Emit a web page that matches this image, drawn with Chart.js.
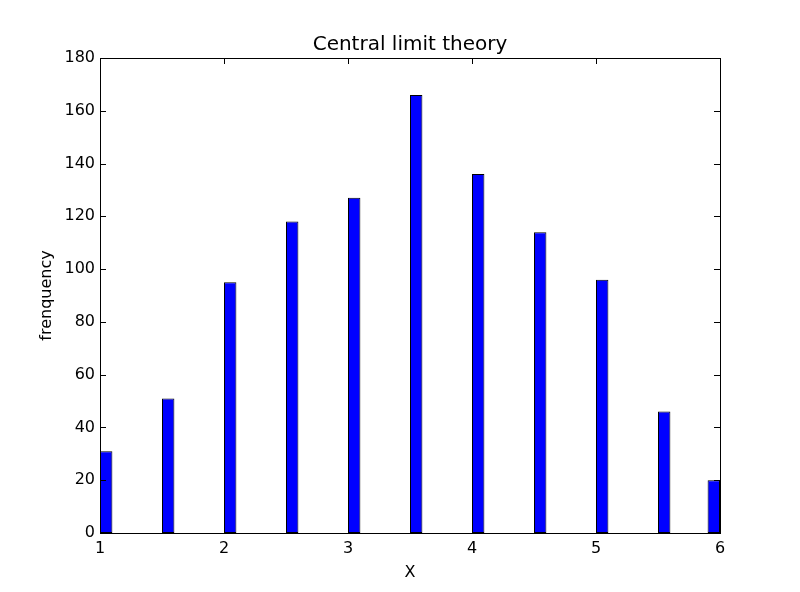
<!DOCTYPE html>
<html>
<head>
<meta charset="utf-8">
<script src="https://cdn.jsdelivr.net/npm/chart.js@4"></script>
<style>
  html, body { margin: 0; padding: 0; background: #ffffff; }
  #wrap { width: 800px; height: 592px; }
</style>
</head>
<body>
<div id="wrap"><canvas id="c" width="800" height="592"></canvas></div>
<script>
// ---- data ----
const binWidth = 0.1;
const binStarts = [1.0, 1.5, 2.0, 2.5, 3.0, 3.5, 4.0, 4.5, 5.0, 5.5, 5.9];
const counts = [31, 51, 95, 118, 127, 166, 136, 114, 96, 46, 20];
const xTicks = [1, 2, 3, 4, 5, 6];
const yTicks = [0, 20, 40, 60, 80, 100, 120, 140, 160, 180];
const titleText = 'Central limit theory';
const xLabel = 'X';
const yLabel = 'frenquency';

// ---- build ----
const points = binStarts.map((s, i) => ({ x: s + binWidth / 2, y: counts[i] }));
let minGap = Infinity;
for (let i = 1; i < points.length; i++) minGap = Math.min(minGap, points[i].x - points[i - 1].x);
const barPct = binWidth / minGap;

const FONT = 'DejaVu Sans';

const framePlugin = {
  id: 'frame',
  afterDatasetsDraw(chart) {
    const { ctx, chartArea: a } = chart;
    const xs = chart.scales.x, ys = chart.scales.y;
    const tl = 6;
    ctx.save();
    ctx.strokeStyle = '#000';
    ctx.lineWidth = 1;
    ctx.beginPath();
    xTicks.forEach(v => {
      const px = Math.round(xs.getPixelForValue(v)) + 0.5;
      ctx.moveTo(px, a.bottom); ctx.lineTo(px, a.bottom - tl);
      ctx.moveTo(px, a.top); ctx.lineTo(px, a.top + tl);
    });
    yTicks.forEach(v => {
      const py = Math.round(ys.getPixelForValue(v)) + 0.5;
      ctx.moveTo(a.left, py); ctx.lineTo(a.left + tl, py);
      ctx.moveTo(a.right, py); ctx.lineTo(a.right - tl, py);
    });
    ctx.stroke();
    ctx.strokeRect(Math.round(a.left) + 0.5, Math.round(a.top) + 0.5,
                   Math.round(a.right - a.left), Math.round(a.bottom - a.top));
    ctx.restore();
  }
};

new Chart(document.getElementById('c'), {
  type: 'bar',
  data: {
    datasets: [{
      data: points,
      backgroundColor: '#0000ff',
      borderColor: '#000000',
      borderWidth: 1,
      borderSkipped: false,
      barPercentage: barPct,
      categoryPercentage: 1.0
    }]
  },
  options: {
    responsive: false,
    devicePixelRatio: 1,
    animation: false,
    layout: { padding: { left: 0, right: 80, top: 0, bottom: 0 } },
    plugins: {
      legend: { display: false },
      tooltip: { enabled: false },
      title: { display: false }
    },
    scales: {
      x: {
        type: 'linear',
        min: xTicks[0],
        max: xTicks[xTicks.length - 1],
        offset: false,
        afterFit: s => { s.height = 59; },
        afterBuildTicks: s => { s.ticks = xTicks.map(v => ({ value: v })); },
        grid: { display: false, drawTicks: false },
        border: { display: false },
        ticks: { color: '#000', padding: 6, font: { family: FONT, size: 16 }, maxRotation: 0 },
        title: {
          display: true, text: xLabel, color: '#000',
          font: { family: FONT, size: 16 },
          padding: { top: 0, bottom: 10 }
        }
      },
      xTop: {
        type: 'linear',
        position: 'top',
        min: xTicks[0],
        max: xTicks[xTicks.length - 1],
        offset: false,
        afterFit: s => { s.height = 58; },
        grid: { display: false, drawTicks: false },
        border: { display: false },
        ticks: { display: false },
        title: {
          display: true, text: titleText, color: '#000',
          font: { family: FONT, size: 20 },
          padding: { top: 33, bottom: 0 }
        }
      },
      y: {
        min: yTicks[0],
        max: yTicks[yTicks.length - 1],
        afterFit: s => { s.width = 100; },
        afterBuildTicks: s => { s.ticks = yTicks.map(v => ({ value: v })); },
        grid: { display: false, drawTicks: false },
        border: { display: false },
        ticks: { color: '#000', padding: 5, font: { family: FONT, size: 16 } },
        title: {
          display: true, text: yLabel, color: '#000',
          font: { family: FONT, size: 16 },
          padding: { top: 37, bottom: 0 }
        }
      }
    }
  },
  plugins: [framePlugin]
});
</script>
</body>
</html>
